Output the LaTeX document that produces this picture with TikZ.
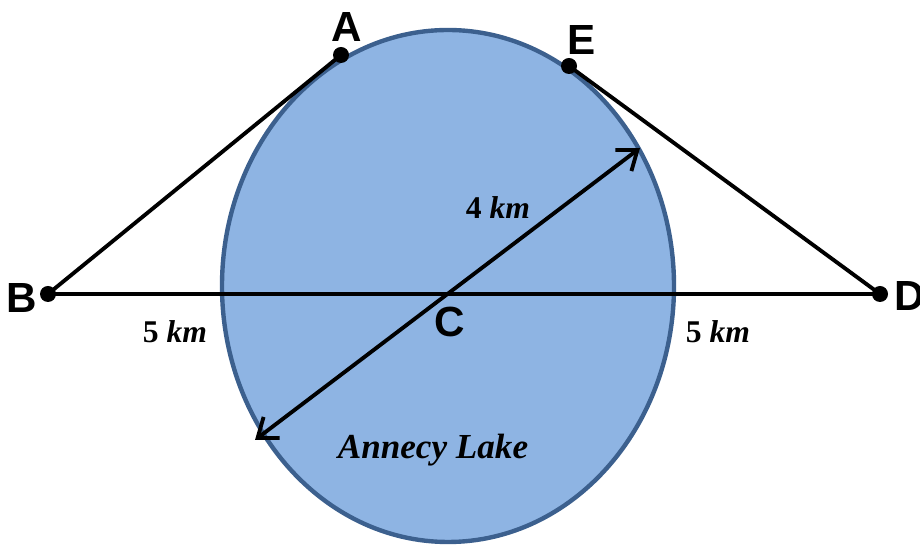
\documentclass[tikz,border=0pt]{standalone}
\usepackage{fontspec}
\setmainfont{Liberation Serif}
\newfontfamily\labelfont{Liberation Sans}
\usetikzlibrary{arrows.meta,positioning}
\definecolor{lakefill}{RGB}{142,180,227}
\definecolor{lakeedge}{RGB}{60,96,142}

\begin{document}
\begin{tikzpicture}[x=0.02cm, y=-0.02cm,
  seg/.style={line width=2.2pt, black},
  ptlabel/.style={font=\labelfont\bfseries\fontsize{24}{24}\selectfont},
  dist/.style={font=\bfseries\fontsize{18}{18}\selectfont}]

\useasboundingbox (0,0) rectangle (920,546);

% Lake
\draw[line width=2.5pt, draw=lakeedge, fill=lakefill] (448,286) ellipse (226 and 256);
\node[font=\bfseries\itshape\fontsize{20}{20}\selectfont] (lake) at (433,450) {Annecy Lake};

% Points
\coordinate (A) at (341,55);
\coordinate (E) at (569,66);
\coordinate (B) at (48,294);
\coordinate (D) at (880,294);
\coordinate (C) at (448,294);
\coordinate (arrL) at (255,440);
\coordinate (arrR) at (640,148);

% Paths
\draw[seg] (B) -- (A);
\draw[seg] (E) -- (D);
\draw[seg] (B) -- (D);
\draw[seg, {Straight Barb[length=10pt,width=15pt]}-{Straight Barb[length=10pt,width=15pt]}] (arrL) -- (arrR);

% Dots
\foreach \p in {A,E,B,D}
  \fill (\p) circle (8);

% Labels
\node[ptlabel] (labA) at (347,27) {A};
\node[ptlabel] (labE) at (582,40) {E};
\node[ptlabel] (labB) at (22,298) {B};
\node[ptlabel] (labD) at (910,296) {D};
\node[ptlabel] (labC) at (450,322) {C};

\node[dist] (d4) at (498,208) {4 \textit{km}};
\node[dist] (d5l) at (175,332) {5 \textit{km}};
\node[dist] (d5r) at (718,332) {5 \textit{km}};

\end{tikzpicture}
\end{document}
